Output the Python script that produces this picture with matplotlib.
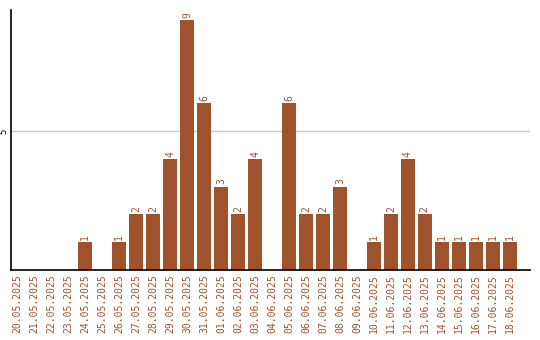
import matplotlib
matplotlib.use('Agg')
import matplotlib.pyplot as plt

dates = ['20.05.2025', '21.05.2025', '22.05.2025', '23.05.2025', '24.05.2025',
         '25.05.2025', '26.05.2025', '27.05.2025', '28.05.2025', '29.05.2025',
         '30.05.2025', '31.05.2025', '01.06.2025', '02.06.2025', '03.06.2025',
         '04.06.2025', '05.06.2025', '06.06.2025', '07.06.2025', '08.06.2025',
         '09.06.2025', '10.06.2025', '11.06.2025', '12.06.2025', '13.06.2025',
         '14.06.2025', '15.06.2025', '16.06.2025', '17.06.2025', '18.06.2025']
counts = [0, 0, 0, 0, 1, 0, 1, 2, 2, 4, 9, 6, 3, 2, 4, 0, 6, 2, 2, 3,
          0, 1, 2, 4, 2, 1, 1, 1, 1, 1]
yticks = [5]

color = '#A0522D'
font = 'DejaVu Sans Mono'

fig = plt.figure(figsize=(5.4, 3.4), dpi=100)
ax = fig.add_axes([11 / 540, 70 / 340, 519 / 540, 260 / 340])

x = list(range(len(dates)))
ax.bar(x, counts, width=0.82, color=color, zorder=2)

for xi, v in zip(x, counts):
    if v > 0:
        ax.text(xi, v + 0.08, str(v), rotation=90, ha='center', va='bottom',
                color=color, fontsize=7, family=font)

ax.set_xlim(-0.38, 30.2)
ax.set_ylim(0, 9.36)
ax.set_yticks(yticks)
ax.set_yticklabels([str(t) for t in yticks], rotation=90, va='center',
                   fontsize=6.5, family=font)
ax.yaxis.grid(True, color='#c8c8c8', linewidth=1, zorder=0)
ax.tick_params(axis='y', length=0, pad=2)

ax.set_xticks(x)
ax.set_xticklabels(dates, rotation=90, color=color, fontsize=7, family=font)
ax.tick_params(axis='x', length=0, pad=3)

for side in ['top', 'right']:
    ax.spines[side].set_visible(False)
ax.spines['left'].set_color('black')
ax.spines['bottom'].set_color('black')
ax.spines['left'].set_linewidth(1.2)
ax.spines['bottom'].set_linewidth(1.2)

fig.savefig('out.png', dpi=100)
